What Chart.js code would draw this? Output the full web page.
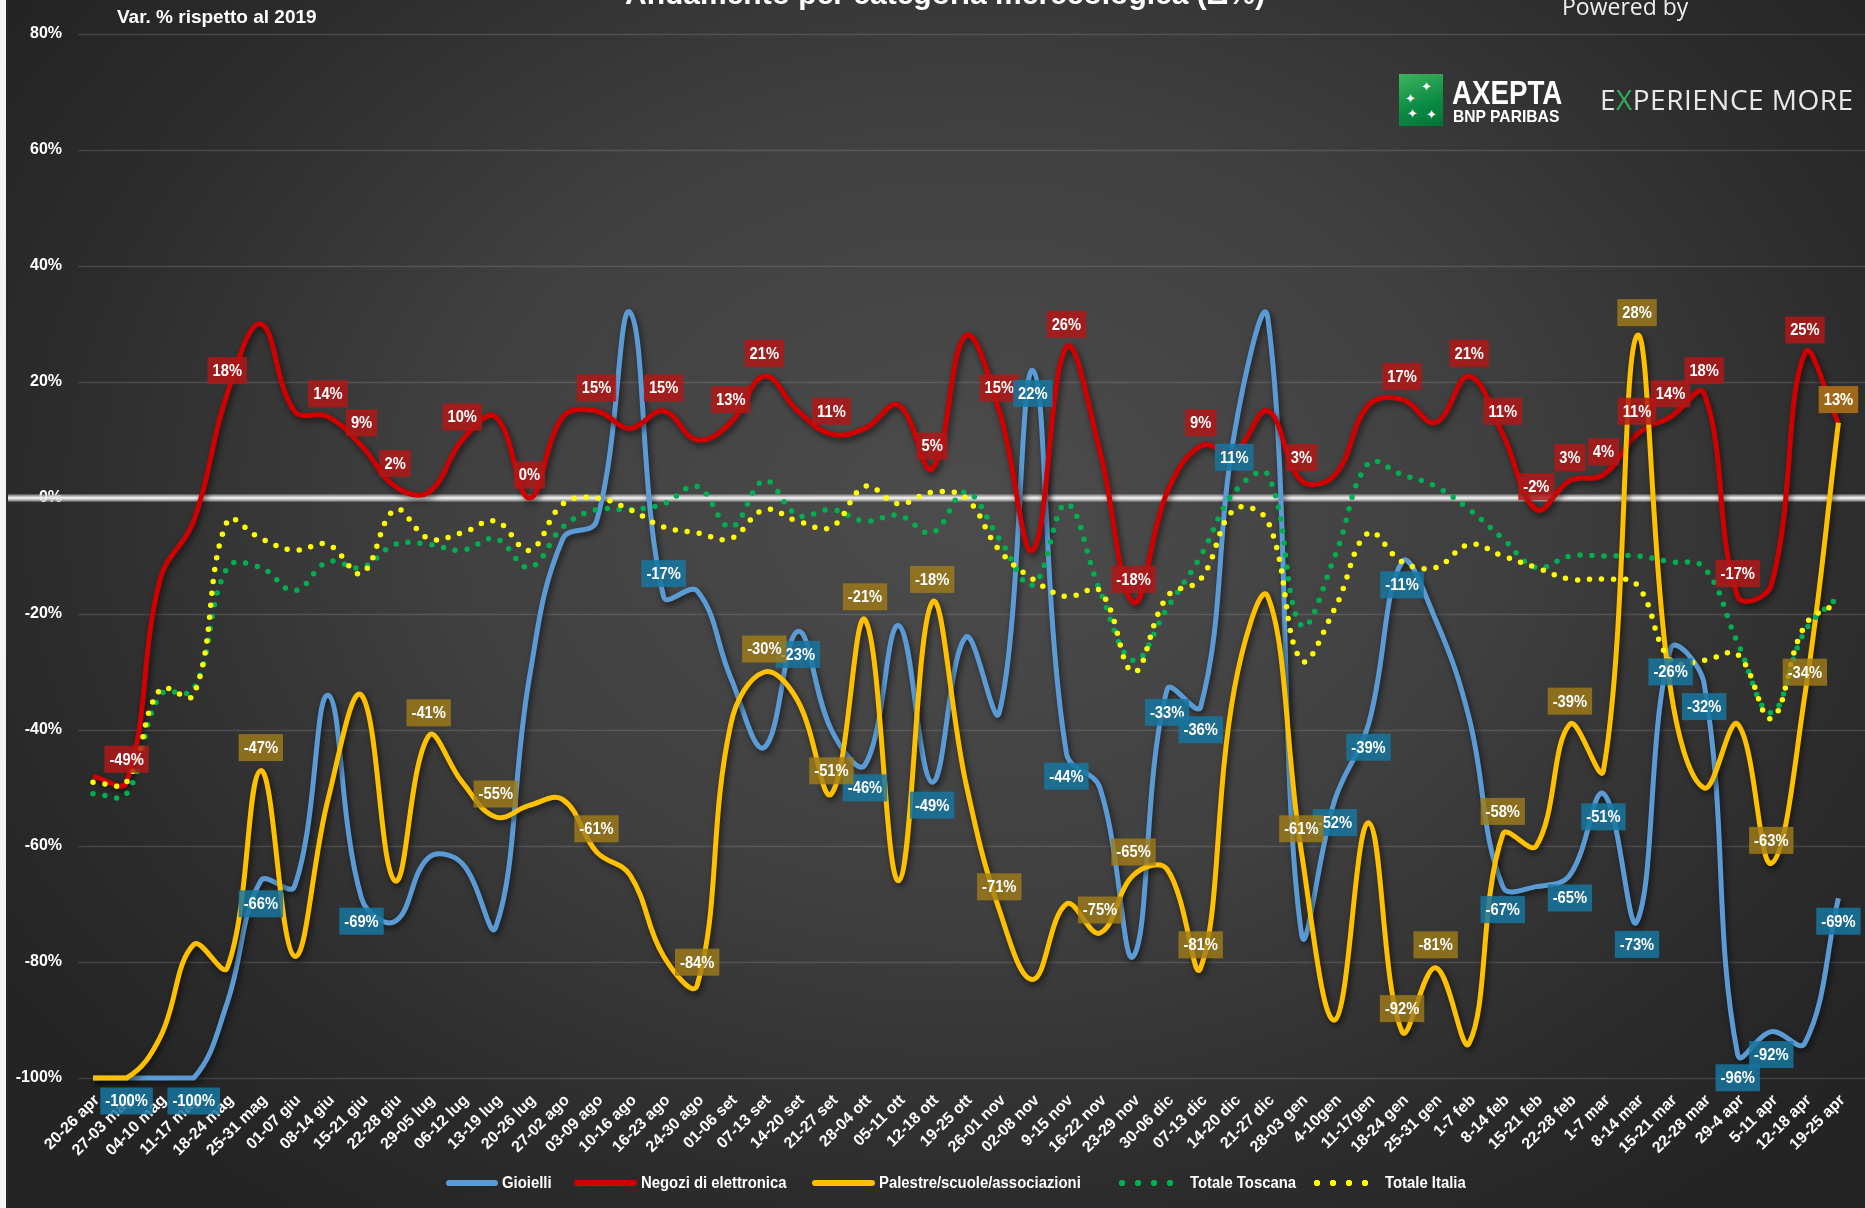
<!DOCTYPE html>
<html lang="it">
<head>
<meta charset="utf-8">
<title>Andamento per categoria merceologica</title>
<script src="https://cdn.jsdelivr.net/npm/chart.js@4.4.1/dist/chart.umd.min.js"></script>
<style>
  html, body { margin: 0; padding: 0; background: #fff; }
  #wrap {
    position: relative; width: 1865px; height: 1208px; overflow: hidden;
    background: radial-gradient(ellipse 62% 72% at 52% 42%, #4c4c4c 0%, #404040 45%, #2c2c2c 80%, #242424 100%);
  }
  #edge { position: absolute; left: 0; top: 0; width: 6px; height: 100%; background: #f4f4f4; }
  canvas { position: absolute; left: 0; top: 0; }
  .txt { position: absolute; color: #fff; white-space: nowrap; font-family: 'Liberation Sans Narrow', 'Arial Narrow', sans-serif; font-weight: bold; }
  #title { left: 0; width: 1890px; text-align: center; top: -21px; font-family: 'Liberation Sans', Arial, sans-serif; font-size: 30px; line-height: 30px; }
  #powered { left: 1562px; top: -9px; font-family: 'Open Sans', sans-serif; font-weight: normal; font-size: 23px; line-height: 30px; color: #eee; }
  #subtitle { left: 117px; top: 6px; font-size: 19px; line-height: 22px; }
  #logo { position: absolute; left: 1399px; top: 74px; width: 44px; height: 52px;
    background: linear-gradient(160deg, #3fb35e 0%, #0a8a43 60%, #057236 100%); }
  #logo span { position: absolute; color: #fff; font-size: 13px; line-height: 13px; }
  #axepta { left: 1452px; top: 76px; font-size: 33px; line-height: 34px; transform: scaleX(0.84); transform-origin: 0 0; }
  #bnp { left: 1453px; top: 108px; font-size: 17px; line-height: 18px; transform: scaleX(0.92); transform-origin: 0 0; }
  #exp { left: 1600px; top: 82px; font-family: 'Open Sans', sans-serif; font-weight: normal; font-size: 28px; line-height: 34px; color: #e8e8e8; letter-spacing: 0.5px; }
  #exp b { color: #2fae5b; font-weight: normal; }
  .leg { position: absolute; top: 1171px; height: 24px; }
  .legline { position: absolute; top: 9px; height: 6px; border-radius: 3px; }
  .legdots { position: absolute; top: 8px; height: 8px;
    background-size: 16px 8px; background-repeat: repeat-x; }
  .legtxt { position: absolute; top: 0; font-size: 16px; line-height: 24px; transform: scaleX(0.93); transform-origin: 0 0; }
</style>
</head>
<body>
<div id="wrap">
  <canvas id="chart" width="1865" height="1208"></canvas>
  <div id="edge"></div>
  <div class="txt" id="title">Andamento per categoria merceologica (Δ%)</div>
  <div class="txt" id="powered">Powered by</div>
  <div class="txt" id="subtitle">Var. % rispetto al 2019</div>
  <div id="logo"><span style="left:22px;top:6px">✦</span><span style="left:6px;top:18px">✦</span><span style="left:8px;top:33px">✦</span><span style="left:27px;top:34px">✦</span></div>
  <div class="txt" id="axepta">AXEPTA</div>
  <div class="txt" id="bnp">BNP PARIBAS</div>
  <div class="txt" id="exp">E<b>X</b>PERIENCE MORE</div>
  <div id="legend"></div>
</div>

<script>
// categorie (settimane)
const categories = [
  '20-26 apr', '27-03 mag', '04-10 mag', '11-17 mag', '18-24 mag', '25-31 mag', '01-07 giu', '08-14 giu',
  '15-21 giu', '22-28 giu', '29-05 lug', '06-12 lug', '13-19 lug', '20-26 lug', '27-02 ago', '03-09 ago',
  '10-16 ago', '16-23 ago', '24-30 ago', '01-06 set', '07-13 set', '14-20 set', '21-27 set', '28-04 ott',
  '05-11 ott', '12-18 ott', '19-25 ott', '26-01 nov', '02-08 nov', '9-15 nov', '16-22 nov', '23-29 nov',
  '30-06 dic', '07-13 dic', '14-20 dic', '21-27 dic', '28-03 gen', '4-10gen', '11-17gen', '18-24 gen',
  '25-31 gen', '1-7 feb', '8-14 feb', '15-21 feb', '22-28 feb', '1-7 mar', '8-14 mar', '15-21 mar',
  '22-28 mar', '29-4 apr', '5-11 apr', '12-18 apr', '19-25 apr'
];

const gioielli = [
  -100, -100, -100, -100, -87, -66, -67, -34, -69, -73, -62, -63, -74, -31, -7, -4,
  32, -17, -16, -31, -43, -23, -40, -46, -22, -49, -24, -37, 22, -44, -50, -79,
  -33, -36, 11, 31, -75, -52, -39, -11, -21, -38, -67, -67, -65, -51, -73, -26,
  -32, -96, -92, -94, -69
];
const elettronica = [
  -48, -49, -14, -4, 18, 30, 15, 14, 9, 2, 1, 10, 14, 0, 14, 15,
  12, 15, 10, 13, 21, 15, 11, 12, 16, 5, 28, 15, -9, 26, 8, -18,
  1, 9, 8, 15, 3, 4, 16, 17, 13, 21, 11, -2, 3, 4, 11, 14,
  18, -17, -15, 25, 13
];
const palestre = [
  -100, -100, -93, -77, -81, -47, -79, -52, -34, -66, -41, -49, -55, -53, -52, -61,
  -65, -79, -84, -39, -30, -35, -51, -21, -66, -18, -49, -71, -83, -70, -75, -65,
  -64, -81, -33, -17, -61, -90, -56, -92, -81, -94, -58, -60, -39, -47, 28, -33,
  -50, -39, -63, -34, 13
];
const totaleToscana = [
  -51, -51, -34, -33, -12, -12, -16, -11, -12, -8, -8, -9, -7, -12, -5, -2,
  -2, -1, 2, -5, 3, -3, -2, -4, -3, -6, 1, -7, -15, -1, -16, -28,
  -19, -10, 1, 4, -22, -10, 6, 4, 2, -2, -7, -12, -10, -10, -10, -11,
  -12, -25, -37, -23, -17
];
const totaleItalia = [
  -49, -49, -33, -34, -4, -7, -9, -8, -13, -2, -7, -6, -4, -9, -1, 0,
  -2, -5, -6, -7, -2, -4, -5, 2, -1, 1, 0, -9, -14, -17, -16, -30,
  -17, -14, -2, -4, -28, -19, -6, -11, -12, -8, -10, -12, -14, -14, -15, -28,
  -28, -27, -38, -22, -18
];

// punti con etichetta dati
const gioielliLabelIdx = [1, 3, 5, 8, 17, 21, 23, 25, 28, 29, 32, 33, 34, 37, 38, 39, 42, 44, 45, 46, 47, 48, 49, 50, 52];
const elettronicaLabelIdx = [1, 4, 7, 8, 9, 11, 13, 15, 17, 19, 20, 22, 25, 27, 29, 31, 33, 36, 39, 41, 42, 43, 44, 45, 46, 47, 48, 49, 51, 52];
const palestreLabelIdx = [5, 10, 12, 15, 18, 20, 22, 23, 25, 27, 30, 31, 33, 36, 39, 40, 42, 44, 46, 50, 51, 52];

const yTicks = [80, 60, 40, 20, 0, -20, -40, -60, -80, -100];

const FONT = "'Liberation Sans Narrow', 'Arial Narrow', 'Liberation Sans', sans-serif";
const BLUE = '#5b9bd5', RED = '#d00000', GOLD = '#ffc000', GREEN = '#00b050', YELLOW = '#ffff00';

// legenda in html
const legendItems = [
  { name: 'Gioielli', color: BLUE, dots: false, x: 446, w: 52 },
  { name: 'Negozi di elettronica', color: RED, dots: false, x: 574, w: 63 },
  { name: 'Palestre/scuole/associazioni', color: GOLD, dots: false, x: 812, w: 63 },
  { name: 'Totale Toscana', color: GREEN, dots: true, x: 1118, w: 62 },
  { name: 'Totale Italia', color: YELLOW, dots: true, x: 1313, w: 62 }
];
document.getElementById('legend').innerHTML = legendItems.map(it => {
  const sample = it.dots
    ? `<div class="legdots" style="left:0;width:${it.w}px;background-image:radial-gradient(circle at 4px 4px, ${it.color} 3px, transparent 3.5px)"></div>`
    : `<div class="legline" style="left:0;width:${it.w}px;background:${it.color}"></div>`;
  return `<div class="leg" style="left:${it.x}px">${sample}<div class="txt legtxt" style="left:${it.w + (it.dots ? 10 : 4)}px">${it.name}</div></div>`;
}).join('');

// griglia orizzontale estesa e linea dello zero
const gridPlugin = {
  id: 'wideGrid',
  beforeDatasetsDraw(chart) {
    const { ctx, scales: { y } } = chart;
    ctx.save();
    yTicks.forEach(t => {
      const py = Math.round(y.getPixelForValue(t)) + 0.5;
      if (t === 0) return;
      ctx.strokeStyle = 'rgba(255,255,255,0.13)';
      ctx.lineWidth = 1.5;
      ctx.beginPath(); ctx.moveTo(78, py); ctx.lineTo(chart.width, py); ctx.stroke();
    });
    const z = y.getPixelForValue(0);
    ctx.strokeStyle = 'rgba(190,190,190,0.75)';
    ctx.lineWidth = 7;
    ctx.beginPath(); ctx.moveTo(8, z); ctx.lineTo(chart.width, z); ctx.stroke();
    ctx.strokeStyle = 'rgba(240,240,240,0.9)';
    ctx.lineWidth = 3;
    ctx.beginPath(); ctx.moveTo(8, z); ctx.lineTo(chart.width, z); ctx.stroke();
    ctx.restore();
  }
};

// ombra sotto le linee continue
const shadowPlugin = {
  id: 'lineShadow',
  beforeDatasetDraw(chart, args) {
    const ctx = chart.ctx;
    ctx.save();
    if (args.index < 3) {
      ctx.shadowColor = 'rgba(0,0,0,0.6)';
      ctx.shadowBlur = 6;
      ctx.shadowOffsetX = 2;
      ctx.shadowOffsetY = 3;
    }
  },
  afterDatasetDraw(chart) {
    chart.ctx.restore();
  }
};

// etichette dati con riquadro
const labelSpecs = [
  { ds: 1, idx: elettronicaLabelIdx, bg: 'rgba(178,24,24,0.85)', below: false },
  { ds: 0, idx: gioielliLabelIdx, bg: 'rgba(24,118,160,0.85)', below: true },
  { ds: 2, idx: palestreLabelIdx, bg: 'rgba(160,124,24,0.8)', below: false }
];
const labelPlugin = {
  id: 'valueLabels',
  afterDatasetsDraw(chart) {
    const ctx = chart.ctx;
    ctx.save();
    ctx.font = 'bold 16px ' + FONT;
    ctx.textAlign = 'center';
    ctx.textBaseline = 'middle';
    labelSpecs.forEach(spec => {
      const meta = chart.getDatasetMeta(spec.ds);
      const data = chart.data.datasets[spec.ds].data;
      spec.idx.forEach(i => {
        const pt = meta.data[i];
        const txt = data[i] + '%';
        let below = spec.below;
        if (spec.ds === 0 && i === 17) below = false;
        const cy = pt.y + (below ? 23 : -23);
        const tw = ctx.measureText(txt).width * 0.92;
        const w = tw + 10, h = 27;
        ctx.fillStyle = spec.bg;
        ctx.fillRect(pt.x - w / 2, cy - h / 2, w, h);
        ctx.fillStyle = '#ffffff';
        ctx.save();
        ctx.translate(pt.x, cy + 1);
        ctx.scale(0.92, 1);
        ctx.fillText(txt, 0, 0);
        ctx.restore();
      });
    });
    ctx.restore();
  }
};

const solid = (label, data, color, order) => ({
  label, data, borderColor: color, backgroundColor: color,
  borderWidth: 5, pointRadius: 0, tension: 0.4, clip: false, order
});
const dotted = (label, data, color, order) => ({
  label, data, borderColor: color, backgroundColor: color,
  borderWidth: 5.5, borderDash: [0, 12], borderCapStyle: 'round',
  pointRadius: 0, tension: 0.4, clip: false, order
});

Chart.defaults.font.family = FONT;

new Chart(document.getElementById('chart'), {
  type: 'line',
  data: {
    labels: categories,
    datasets: [
      solid('Gioielli', gioielli, BLUE, 5),
      solid('Negozi di elettronica', elettronica, RED, 4),
      solid('Palestre/scuole/associazioni', palestre, GOLD, 3),
      dotted('Totale Toscana', totaleToscana, GREEN, 2),
      dotted('Totale Italia', totaleItalia, YELLOW, 1)
    ]
  },
  options: {
    responsive: false,
    animation: false,
    layout: { padding: { top: 34, right: 15, left: 0, bottom: 0 } },
    plugins: { legend: { display: false }, tooltip: { enabled: false } },
    scales: {
      x: {
        offset: false,
        grid: { display: false, drawTicks: false },
        border: { display: false },
        ticks: {
          autoSkip: false, maxRotation: 45, minRotation: 45,
          color: '#ffffff', font: { size: 16, weight: 'bold' }, padding: 13, labelOffset: 4
        },
        afterFit: s => { s.height = 130; }
      },
      y: {
        min: -100, max: 80,
        grid: { display: false, drawTicks: false },
        border: { display: false },
        ticks: {
          stepSize: 20, color: '#ffffff', padding: 31,
          font: { size: 16, weight: 'bold' },
          callback: v => v + '%'
        },
        afterFit: s => { s.width = 93; s.paddingTop = 0; s.paddingBottom = 0; }
      }
    }
  },
  plugins: [gridPlugin, shadowPlugin, labelPlugin]
});
</script>
</body>
</html>
